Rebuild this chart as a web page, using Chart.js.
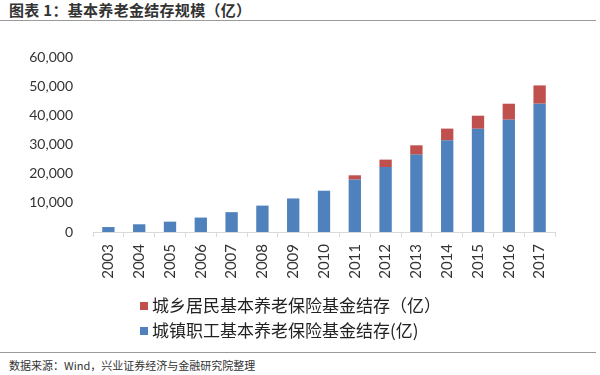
<!DOCTYPE html>
<html>
<head>
<meta charset="utf-8">
<script src="https://cdn.jsdelivr.net/npm/chart.js@4/dist/chart.umd.min.js"></script>
<style>
    body { margin: 0; background: #fff; width: 600px; height: 375px; position: relative; overflow: hidden; }
    .titulo {
        position: absolute; left: 0; top: 0; width: 596px; height: 21px;
        border-bottom: 1px solid #9a9a9a;
        font: bold 15px "Noto Sans CJK SC", sans-serif; color: #333;
        padding-left: 9px; line-height: 20px; box-sizing: border-box; letter-spacing: 0.3px;
    }
    .fuente {
        position: absolute; left: 0; top: 352px; width: 596px; height: 23px;
        border-top: 1px solid #9a9a9a;
        font: 11px "Noto Sans CJK SC", sans-serif; color: #333;
        padding-left: 9px; line-height: 24px; box-sizing: border-box;
    }
    .grafico { position: absolute; left: 0; top: 22px; width: 600px; height: 330px; }
    .leyenda {
        position: absolute; left: 140px; top: 293px;
        font: 17px "Noto Sans CJK SC", sans-serif; color: #222;
    }
    .leyenda div { height: 25px; line-height: 24px; white-space: nowrap; }
    .leyenda span.caja { display: inline-block; width: 8px; height: 8px; margin-right: 4px; vertical-align: 2px; }
</style>
</head>
<body>
<div class="titulo">图表 1：基本养老金结存规模（亿）</div>
<div class="grafico"><canvas id="chart"></canvas></div>
<div class="leyenda" id="leyenda"></div>
<div class="fuente">数据来源：Wind，兴业证券经济与金融研究院整理</div>
<script>
// --- Datos ---
const anios = ["2003", "2004", "2005", "2006", "2007", "2008", "2009", "2010",
    "2011", "2012", "2013", "2014", "2015", "2016", "2017"];
const urbanoEmpleados = [1700, 2650, 3550, 4950, 6800, 9050, 11500, 14150,
    17960, 22280, 26530, 31440, 35400, 38500, 43990];
const ruralResidentes = [0, 0, 0, 0, 0, 0, 0, 0,
    1480, 2540, 3190, 4010, 4470, 5480, 6270];
const nombreUrbano = "城镇职工基本养老保险基金结存(亿)";
const nombreRural = "城乡居民基本养老保险基金结存（亿）";
const ticksY = [0, 10000, 20000, 30000, 40000, 50000, 60000];

const azul = "#4f81bd";
const rojo = "#c0504d";

function formatearNumero(n) {
    return Number(n).toLocaleString("en-US");
}

// --- Leyenda (HTML, orden invertido como en el original) ---
function mostrarLeyenda(chart) {
    const cont = document.getElementById("leyenda");
    cont.innerHTML = chart.data.datasets.slice().reverse().map(ds =>
        `<div><span class="caja" style="background:${ds.backgroundColor}"></span>${ds.label}</div>`
    ).join("");
}

// --- Principal ---
const ctx = document.getElementById("chart").getContext("2d");
const grafico = new Chart(ctx, {
    type: "bar",
    data: {
        labels: anios,
        datasets: [
            { label: nombreUrbano, data: urbanoEmpleados, backgroundColor: azul },
            { label: nombreRural, data: ruralResidentes, backgroundColor: rojo }
        ]
    },
    options: {
        responsive: true,
        maintainAspectRatio: false,
        animation: false,
        datasets: { bar: { categoryPercentage: 1, barPercentage: 0.4 } },
        layout: { padding: { left: 0, right: 45, top: 35, bottom: 70 } },
        plugins: {
            tooltip: { enabled: false },
            legend: { display: false }
        },
        scales: {
            x: {
                stacked: true,
                grid: { display: true, drawOnChartArea: false, drawTicks: true, tickLength: 5, color: "#d9d9d9", offset: true },
                border: { display: true, color: "#d9d9d9" },
                ticks: {
                    color: "#333", maxRotation: 90, minRotation: 90, padding: 7,
                    font: { family: "Lato, sans-serif", size: 15 }
                },
                afterFit: s => { s.height = 50; }
            },
            y: {
                stacked: true,
                min: 0, max: 60000,
                afterBuildTicks: s => { s.ticks = ticksY.map(v => ({ value: v })); },
                grid: { display: false, drawTicks: false },
                border: { display: false },
                ticks: {
                    color: "#333", padding: 20,
                    font: { family: "Lato, sans-serif", size: 14 },
                    callback: v => formatearNumero(v)
                },
                afterFit: s => { s.width = 93; }
            }
        }
    }
});
mostrarLeyenda(grafico);
</script>
</body>
</html>
